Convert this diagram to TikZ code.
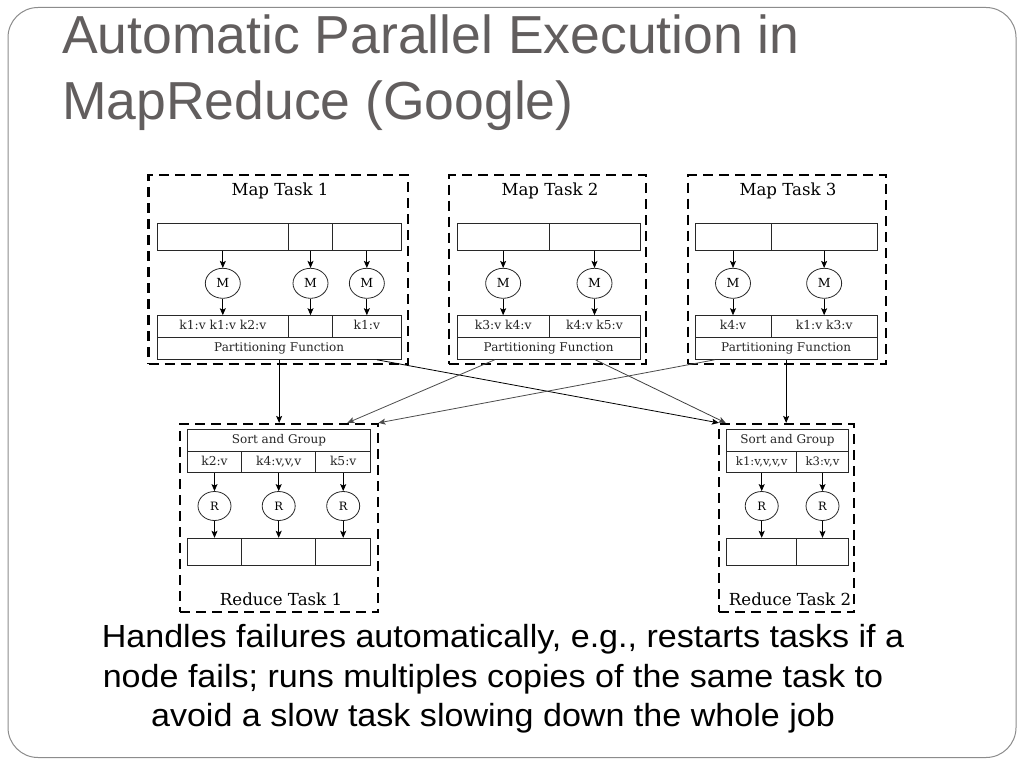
\documentclass[tikz,border=0pt]{standalone}
\usepackage{fontspec}
\setmainfont{Liberation Sans}
\newfontfamily\diagfont{DejaVu Serif}
\usetikzlibrary{arrows.meta,calc,shapes.geometric}
\definecolor{titlegrey}{RGB}{98,94,94}
\definecolor{framegrey}{RGB}{140,140,140}
\definecolor{linedark}{RGB}{40,40,40}
\newcommand{\wideline}[1]{\scalebox{1.065}[1]{#1}}
\begin{document}
\begin{tikzpicture}[x=1pt,y=-1pt,
  frame/.style={draw=framegrey, line width=1pt, rounded corners=30pt},
  taskbox/.style={draw=black, line width=2.2pt, dash pattern=on 10pt off 6pt, inner sep=0pt},
  cell/.style={draw=linedark, line width=1pt, inner sep=0pt, text=black!85,
    text height=8.5pt, text depth=2.5pt,
    font=\diagfont\fontsize{12.3}{13}\selectfont},
  proc/.style={draw=linedark, line width=0.8pt, ellipse, inner sep=0pt,
    minimum width=35pt, minimum height=30pt, font=\diagfont\fontsize{12.5}{13}\selectfont},
  rproc/.style={proc, minimum width=33pt, minimum height=29pt, font=\diagfont\fontsize{11.5}{12}\selectfont},
  tasktitle/.style={font=\diagfont\fontsize{16.6}{17}\selectfont, anchor=base, inner sep=0pt},
  flow/.style={draw=black, line width=0.8pt, -{Stealth[length=7pt,width=6pt,inset=1.5pt]}},
  title/.style={font=\fontsize{53.5}{60}\selectfont, text=titlegrey, anchor=base west, inner sep=0pt},
  body/.style={font=\fontsize{32}{38}\selectfont, text=black, anchor=base, inner sep=0pt},
]
\useasboundingbox (0,0) rectangle (1024,768);
\fill[white] (0,0) rectangle (1024,768);
\draw[frame] (8,7.5) rectangle (1016,757.5);

% Title
\node[title] (t1) at (62,53.3) {Automatic Parallel Execution in};
\node[title] (t2) at (62,119.3) {MapReduce (Google)};

% ---------- Map Task boxes ----------
\node[taskbox, minimum width=259.5pt, minimum height=189pt] (mt1) at (278.25,269.5) {};
\node[taskbox, minimum width=196.7pt, minimum height=189pt] (mt2) at (547.65,269.5) {};
\node[taskbox, minimum width=197.7pt, minimum height=189pt] (mt3) at (787.15,269.5) {};
\node[tasktitle] (mtl1) at (280,195) {Map Task 1};
\node[tasktitle] (mtl2) at (550,195) {Map Task 2};
\node[tasktitle] (mtl3) at (788,195) {Map Task 3};

% Map 1
\node[cell, minimum width=131pt, minimum height=26.7pt] (i1a) at (222.8,236.65) {};
\node[cell, minimum width=44.4pt, minimum height=26.7pt] (i1b) at (310.5,236.65) {};
\node[cell, minimum width=68.3pt, minimum height=26.7pt] (i1c) at (366.85,236.65) {};
\node[proc] (m1a) at (222.8,283.3) {M};
\node[proc] (m1b) at (310.5,283.3) {M};
\node[proc] (m1c) at (366.85,283.3) {M};
\node[cell, minimum width=131pt, minimum height=22pt] (o1a) at (222.8,326.7) {k1:v k1:v k2:v};
\node[cell, minimum width=44.4pt, minimum height=22pt] (o1b) at (310.5,326.7) {};
\node[cell, minimum width=68.3pt, minimum height=22pt] (o1c) at (366.85,326.7) {k1:v};
\node[cell, minimum width=243.7pt, minimum height=21.6pt, font=\diagfont\fontsize{12}{13}\selectfont] (p1) at (279.15,348.5) {Partitioning Function};

% Map 2
\node[cell, minimum width=91.7pt, minimum height=26.7pt] (i2a) at (503.15,236.65) {};
\node[cell, minimum width=91pt, minimum height=26.7pt] (i2b) at (594.5,236.65) {};
\node[proc] (m2a) at (503.15,283.3) {M};
\node[proc] (m2b) at (594.5,283.3) {M};
\node[cell, minimum width=91.7pt, minimum height=22pt] (o2a) at (503.15,326.7) {k3:v k4:v};
\node[cell, minimum width=91pt, minimum height=22pt] (o2b) at (594.5,326.7) {k4:v k5:v};
\node[cell, minimum width=182.7pt, minimum height=21.6pt, font=\diagfont\fontsize{12}{13}\selectfont] (p2) at (548.65,348.5) {Partitioning Function};

% Map 3
\node[cell, minimum width=76pt, minimum height=26.7pt] (i3a) at (733,236.65) {};
\node[cell, minimum width=106.3pt, minimum height=26.7pt] (i3b) at (824.15,236.65) {};
\node[proc] (m3a) at (733,283.3) {M};
\node[proc] (m3b) at (824.15,283.3) {M};
\node[cell, minimum width=76pt, minimum height=22pt] (o3a) at (733,326.7) {k4:v};
\node[cell, minimum width=106.3pt, minimum height=22pt] (o3b) at (824.15,326.7) {k1:v k3:v};
\node[cell, minimum width=182.3pt, minimum height=21.6pt, font=\diagfont\fontsize{12}{13}\selectfont] (p3) at (786.15,348.5) {Partitioning Function};

% map arrows
\foreach \c in {1a,1b,1c,2a,2b,3a,3b}{
  \draw[flow] (i\c.south) -- (i\c.south |- m\c.north);
  \draw[flow] (m\c.south) -- (m\c.south |- o\c.north);
}

% ---------- Reduce Task boxes ----------
\node[taskbox, minimum width=198.3pt, minimum height=188.3pt] (rt1) at (279.15,518.15) {};
\node[taskbox, minimum width=135.3pt, minimum height=188.3pt] (rt2) at (786.65,518.15) {};
\node[tasktitle] (rtl1) at (281,605) {Reduce Task 1};
\node[tasktitle] (rtl2) at (790,605) {Reduce Task 2};

% Reduce 1
\node[cell, minimum width=183.4pt, minimum height=22.4pt, font=\diagfont\fontsize{12}{13}\selectfont] (s1) at (279,440.5) {Sort and Group};
\node[cell, minimum width=54.4pt, minimum height=21pt] (k1a) at (214.5,462.2) {k2:v};
\node[cell, minimum width=74pt, minimum height=21pt] (k1b) at (278.7,462.2) {k4:v,v,v};
\node[cell, minimum width=55pt, minimum height=21pt] (k1c) at (343.2,462.2) {k5:v};
\node[rproc] (r1a) at (214.5,506) {R};
\node[rproc] (r1b) at (278.7,506) {R};
\node[rproc] (r1c) at (343.2,506) {R};
\node[cell, minimum width=54.4pt, minimum height=27.4pt] (u1a) at (214.5,552) {};
\node[cell, minimum width=74pt, minimum height=27.4pt] (u1b) at (278.7,552) {};
\node[cell, minimum width=55pt, minimum height=27.4pt] (u1c) at (343.2,552) {};

% Reduce 2
\node[cell, minimum width=121.6pt, minimum height=22.4pt, font=\diagfont\fontsize{12}{13}\selectfont] (s2) at (787.5,440.5) {Sort and Group};
\node[cell, minimum width=70pt, minimum height=21pt, font=\diagfont\fontsize{11.6}{13}\selectfont] (k2a) at (761.7,462.2) {k1:v,v,v,v};
\node[cell, minimum width=51.6pt, minimum height=21pt, font=\diagfont\fontsize{11.6}{13}\selectfont] (k2b) at (822.5,462.2) {k3:v,v};
\node[rproc] (r2a) at (761.7,506) {R};
\node[rproc] (r2b) at (822.5,506) {R};
\node[cell, minimum width=70pt, minimum height=27.4pt] (u2a) at (761.7,552) {};
\node[cell, minimum width=51.6pt, minimum height=27.4pt] (u2b) at (822.5,552) {};

\foreach \c in {1a,1b,1c,2a,2b}{
  \draw[flow] (k\c.south) -- (k\c.south |- r\c.north);
  \draw[flow] (r\c.south) -- (r\c.south |- u\c.north);
}

% ---------- shuffle connectors ----------
\draw[flow] (p1.south) -- (p1.south |- rt1.north);
\draw[flow] ($(p1.south west)!0.90!(p1.south east)$) -- ($(rt2.north west)+(1,0)$);
\draw[flow, draw=black!70] ($(p2.south west)!0.206!(p2.south east)$) -- ($(rt1.north west)!0.84!(rt1.north east)$);
\draw[flow, draw=black!75] ($(p2.south west)!0.754!(p2.south east)$) -- ($(rt2.north west)!0.057!(rt2.north east)$);
\draw[flow, draw=black!70] ($(p3.south west)!0.11!(p3.south east)$) -- ($(rt1.north east)+(-1,0)$);
\draw[flow] (p3.south) -- (p3.south |- rt2.north);

% Body text
\node[body] (b1) at (503,647.5) {\wideline{Handles failures automatically, e.g., restarts tasks if a}};
\node[body] (b2) at (493,687) {\wideline{node fails; runs multiples copies of the same task to}};
\node[body] (b3) at (493,726) {\wideline{avoid a slow task slowing down the whole job}};
\end{tikzpicture}
\end{document}
